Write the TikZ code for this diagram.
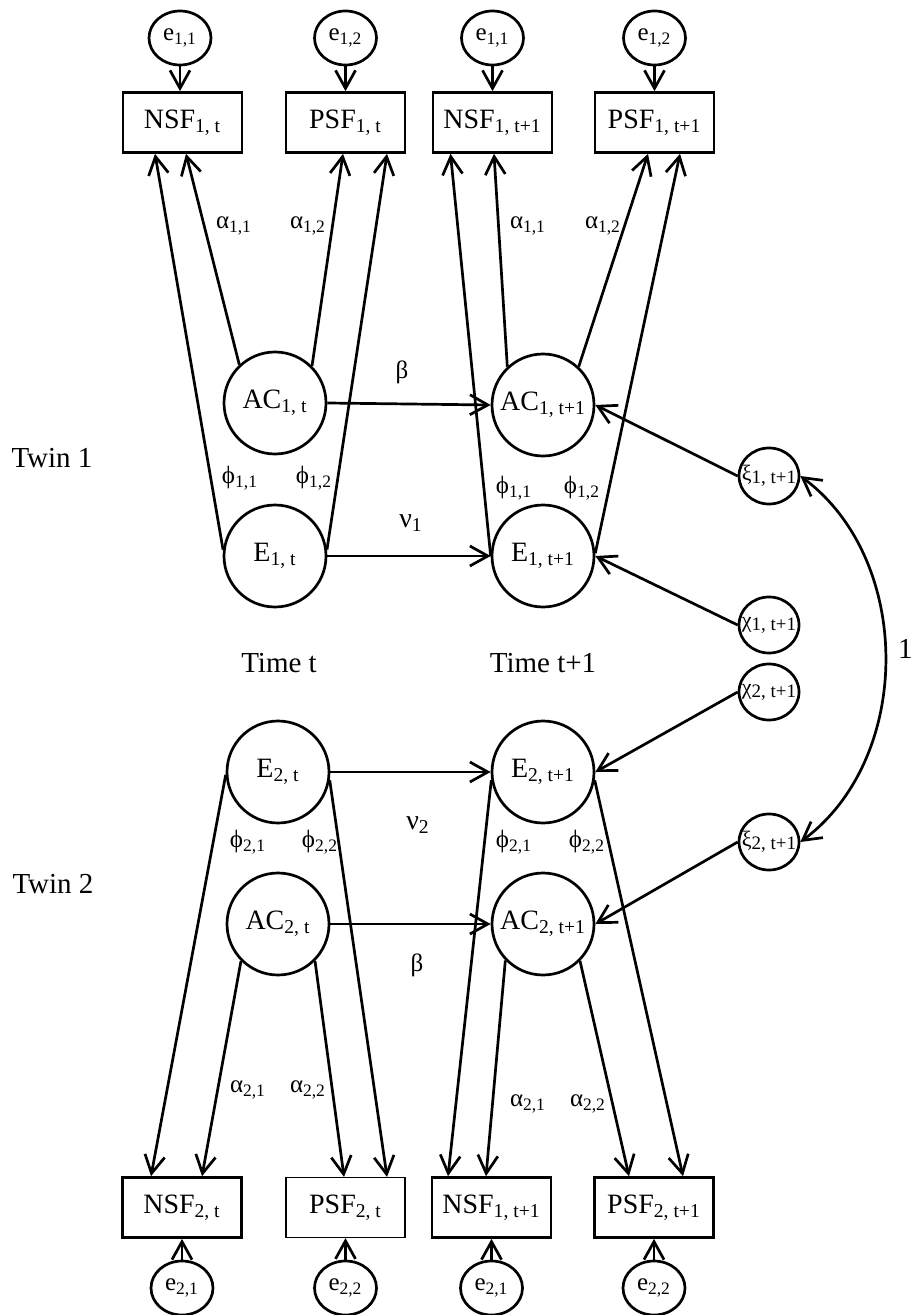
\documentclass[tikz,border=0pt]{standalone}
\usepackage{fontspec}
\setmainfont{Liberation Serif}
\usetikzlibrary{arrows.meta,shapes.geometric,calc}
\newcommand{\rsub}[1]{{\fontsize{9.5}{10}\selectfont\raisebox{-0.35ex}{#1}}}
\begin{document}
\begin{tikzpicture}[x=0.5pt,y=-0.5pt,
  line width=1.35pt,
  arr/.style={-{Straight Barb[length=9pt,width=10pt]}},
  dbl/.style={{Straight Barb[length=9pt,width=10pt]}-{Straight Barb[length=9pt,width=10pt]}},
  big/.style={draw,circle,minimum size=51pt,inner sep=0pt,font=\fontsize{14}{16}\selectfont},
  obs/.style={draw,rectangle,minimum width=59.5pt,minimum height=30pt,inner sep=1pt,font=\fontsize{14}{16}\selectfont},
  err/.style={draw,ellipse,minimum width=31pt,minimum height=27pt,inner sep=0pt,font=\fontsize{12.5}{14}\selectfont},
  res/.style={draw,ellipse,minimum width=30pt,minimum height=28pt,inner sep=-3.5pt,font=\fontsize{11}{12}\selectfont},
  lab/.style={inner sep=0pt,font=\fontsize{12.5}{14}\selectfont},
  glab/.style={inner sep=0pt,font=\fontsize{14}{16}\selectfont},
  txt/.style={inner sep=0pt,font=\fontsize{14.5}{17}\selectfont}]
\useasboundingbox (0,0) rectangle (915,1315);

% ---------- top row: error terms and indicators (twin 1)
\node[obs] (N1t)  at (182.5,122.5) {NSF\textsubscript{1, t}};
\node[obs] (P1t)  at (345.5,122.5) {PSF\textsubscript{1, t}};
\node[obs] (N1t1) at (492.5,122.5) {NSF\textsubscript{1, t+1}};
\node[obs] (P1t1) at (654.5,122.5) {PSF\textsubscript{1, t+1}};
\node[err] (ea) at (180,38) {e\textsubscript{1,1}};
\node[err] (eb) at (345.5,38) {e\textsubscript{1,2}};
\node[err] (ec) at (492.5,38) {e\textsubscript{1,1}};
\node[err] (ed) at (654.5,38) {e\textsubscript{1,2}};
\foreach \a/\b in {ea/N1t,eb/P1t,ec/N1t1,ed/P1t1} \draw[arr] (\a) -- (\a |- \b.north);

% ---------- latent factors twin 1
\node[big] (AC1t)  at (275,403) {AC\textsubscript{1, t}};
\node[big] (AC1t1) at (543,405) {AC\textsubscript{1, t+1}};
\node[big] (E1t)   at (275,556) {E\textsubscript{1, t}};
\node[big] (E1t1)  at (543,556) {E\textsubscript{1, t+1}};

% ---------- latent factors twin 2
\node[big] (E2t)   at (278,772) {E\textsubscript{2, t}};
\node[big] (E2t1)  at (543,772) {E\textsubscript{2, t+1}};
\node[big] (AC2t)  at (278,924) {AC\textsubscript{2, t}};
\node[big] (AC2t1) at (543,924) {AC\textsubscript{2, t+1}};

% ---------- bottom row (twin 2)
\node[obs] (N2t)  at (182,1207.5) {NSF\textsubscript{2, t}};
\node[obs,line width=0.6pt] (P2t)  at (345.5,1207.5) {PSF\textsubscript{2, t}};
\node[obs] (N2t1) at (491.5,1207.5) {NSF\textsubscript{1, t+1}};
\node[obs] (P2t1) at (654,1207.5) {PSF\textsubscript{2, t+1}};
\node[err] (fa) at (182,1288) {e\textsubscript{2,1}};
\node[err] (fb) at (345.5,1288) {e\textsubscript{2,2}};
\node[err] (fc) at (491.5,1288) {e\textsubscript{2,1}};
\node[err] (fd) at (654,1288) {e\textsubscript{2,2}};
\foreach \a/\b in {fa/N2t,fb/P2t,fc/N2t1,fd/P2t1} \draw[arr] (\a) -- (\b);

% ---------- residual / innovation terms
\node[res] (xi1) at (769,476) {ξ\rsub{1, t+1}};
\node[res] (ch1) at (769,625) {χ\rsub{1, t+1}};
\node[res] (ch2) at (769,692) {χ\rsub{2, t+1}};
\node[res] (xi2) at (769,842) {ξ\rsub{2, t+1}};

% ---------- loadings twin 1
\draw[arr] (E1t.173)  -- ($(N1t.south)+(-27.5,0)$);
\draw[arr] (AC1t.133) -- ($(N1t.south)+(3.5,0)$);
\draw[arr] (AC1t.45)  -- ($(P1t.south)+(-2.5,0)$);
\draw[arr] (E1t.7)    -- ($(P1t.south)+(41.5,0)$);
\draw[arr] (E1t1.180) -- ($(N1t1.south)+(-42,0)$);
\draw[arr] (AC1t1.133)-- ($(N1t1.south)+(1.5,0)$);
\draw[arr] (AC1t1.47) -- ($(P1t1.south)+(-6.5,0)$);
\draw[arr] (E1t1.3)   -- ($(P1t1.south)+(25.5,0)$);

% ---------- loadings twin 2
\draw[arr] (E2t.183)   -- ($(N2t.north)+(-31,0)$);
\draw[arr] (AC2t.225)  -- ($(N2t.north)+(20,0)$);
\draw[arr] (AC2t.315)  -- ($(P2t.north)+(-1.5,0)$);
\draw[arr] (E2t.-9)    -- ($(P2t.north)+(41.5,0)$);
\draw[arr] (E2t1.189)  -- ($(N2t1.north)+(-43.5,0)$);
\draw[arr] (AC2t1.224) -- ($(N2t1.north)+(-5.5,0)$);
\draw[arr] (AC2t1.315) -- ($(P2t1.north)+(-25,0)$);
\draw[arr] (E2t1.-9)   -- ($(P2t1.north)+(29,0)$);

% ---------- autoregressive paths
\draw[arr] (AC1t.east) -- (AC1t1.west);
\draw[arr] (E1t.east)  -- (E1t1.west);
\draw[arr] (E2t.east)  -- (E2t1.west);
\draw[arr] (AC2t.east) -- (AC2t1.west);

% ---------- innovations
\draw[arr] (xi1.west) -- (AC1t1.east);
\draw[arr] (ch1.west) -- (E1t1.east);
\draw[arr] (ch2.west) -- (E2t1.east);
\draw[arr] (xi2.west) -- (AC2t1.east);
\draw[dbl] (xi1.east) .. controls +(113,84) and +(113,-84) .. (xi2.east);
\node[txt,anchor=east] (one) at (914,649) {1};

% ---------- path labels
\node[lab] (la1) at (234,226) {α\textsubscript{1,1}};
\node[lab] (la2) at (308,226) {α\textsubscript{1,2}};
\node[lab] (la3) at (528,226) {α\textsubscript{1,1}};
\node[lab] (la4) at (603,226) {α\textsubscript{1,2}};
\node[lab] (lb1) at (402,372) {β};
\node[glab] (lv1) at (411,523) {ν\textsubscript{1}};
\node[lab] (lp1) at (240,478) {ϕ\textsubscript{1,1}};
\node[lab] (lp2) at (314,478) {ϕ\textsubscript{1,2}};
\node[lab] (lp3) at (514,488) {ϕ\textsubscript{1,1}};
\node[lab] (lp4) at (582,488) {ϕ\textsubscript{1,2}};
\node[lab] (lq1) at (248,842) {ϕ\textsubscript{2,1}};
\node[lab] (lq2) at (320,842) {ϕ\textsubscript{2,2}};
\node[lab] (lq3) at (514,842) {ϕ\textsubscript{2,1}};
\node[lab] (lq4) at (587,842) {ϕ\textsubscript{2,2}};
\node[glab] (lv2) at (418,825) {ν\textsubscript{2}};
\node[lab] (lb2) at (417,965) {β};
\node[lab] (lc1) at (248,1090) {α\textsubscript{2,1}};
\node[lab] (lc2) at (308,1090) {α\textsubscript{2,2}};
\node[lab] (lc3) at (528,1104) {α\textsubscript{2,1}};
\node[lab] (lc4) at (588,1104) {α\textsubscript{2,2}};

% ---------- captions
\node[txt] (tw1) at (52,458) {Twin 1};
\node[txt] (tw2) at (53,884) {Twin 2};
\node[txt] (tt)  at (279,663) {Time t};
\node[txt] (tt1) at (543,663) {Time t+1};
\end{tikzpicture}
\end{document}
